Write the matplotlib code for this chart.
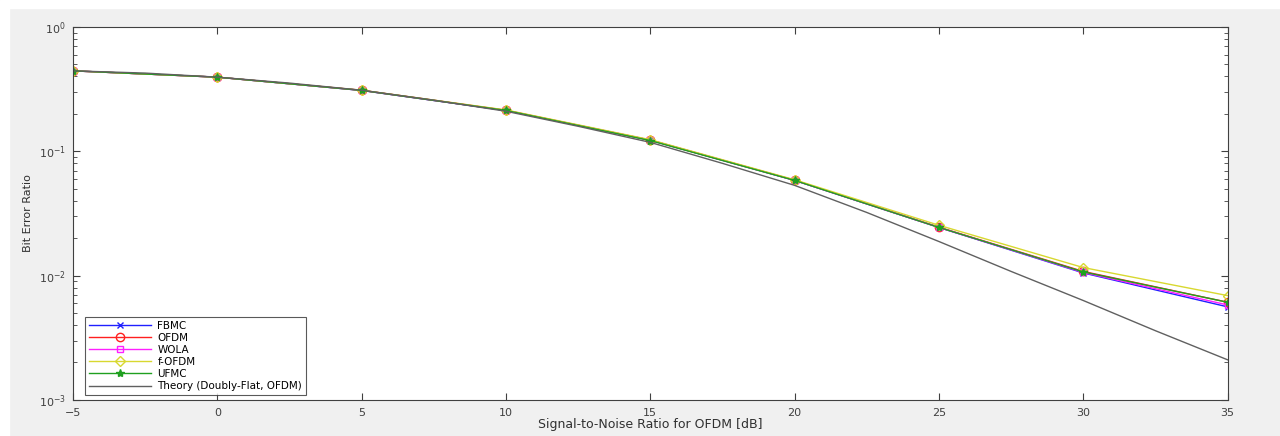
import matplotlib
matplotlib.use('Agg')
import matplotlib.pyplot as plt
from matplotlib.patches import Rectangle
from matplotlib.ticker import LogLocator, NullFormatter

snr = [-5, 0, 5, 10, 15, 20, 25, 30, 35]
fbmc = [0.444, 0.395, 0.309, 0.213, 0.123, 0.0584, 0.0244, 0.0105, 0.0056]
ofdm = [0.444, 0.395, 0.310, 0.214, 0.123, 0.0586, 0.0245, 0.0108, 0.0061]
wola = [0.444, 0.395, 0.309, 0.213, 0.123, 0.0584, 0.0244, 0.0106, 0.0058]
fofdm = [0.444, 0.395, 0.310, 0.215, 0.124, 0.0590, 0.0254, 0.0116, 0.0069]
ufmc = [0.444, 0.395, 0.309, 0.213, 0.122, 0.0583, 0.0244, 0.0107, 0.0061]

snr_theory = [-5, -2.5, 0, 2.5, 5, 7.5, 10, 12.5, 15, 17.5, 20, 22.5, 25, 27.5, 30, 32.5, 35]
theory = [0.444, 0.426, 0.395, 0.354, 0.310, 0.258, 0.210, 0.159, 0.118, 0.080,
          0.0532, 0.0322, 0.0188, 0.0108, 0.0063, 0.0036, 0.0021]

fig = plt.figure(figsize=(12.8, 4.36), dpi=100, facecolor='#f0f0f0')
# white strip at top and left like the screenshot
fig.patches.append(Rectangle((0, 0.982), 1, 0.018, transform=fig.transFigure,
                             color='white', zorder=-1))
fig.patches.append(Rectangle((0, 0), 0.007, 1, transform=fig.transFigure,
                             color='white', zorder=-1))
ax = fig.add_axes([0.057, 0.083, 0.902, 0.855])

ax.plot(snr, fbmc, color='#2020ff', marker='x', ms=5, lw=1, label='FBMC')
ax.plot(snr, ofdm, color='#ff2020', marker='o', ms=6, mfc='none', lw=1, label='OFDM')
ax.plot(snr, wola, color='#ff20ff', marker='s', ms=5, mfc='none', lw=1, label='WOLA')
ax.plot(snr, fofdm, color='#d8d830', marker='D', ms=5, mfc='none', lw=1, label='f-OFDM')
ax.plot(snr, ufmc, color='#20a020', marker='*', ms=6, lw=1, label='UFMC')
ax.plot(snr_theory, theory, color='#606060', lw=1, label='Theory (Doubly-Flat, OFDM)')

ax.set_yscale('log')
ax.set_xlim(-5, 35)
ax.set_ylim(1e-3, 1)
ax.set_xticks(range(-5, 36, 5))
ax.yaxis.set_major_locator(LogLocator(base=10))
ax.yaxis.set_minor_locator(LogLocator(base=10, subs=range(2, 10)))
ax.yaxis.set_minor_formatter(NullFormatter())
ax.tick_params(which='both', direction='in', top=True, right=True, labelsize=8,
               colors='#404040', labelcolor='#404040')
ax.tick_params(which='major', length=5)
ax.tick_params(which='minor', length=3)
ax.tick_params(axis='x', pad=6)
ax.tick_params(axis='y', pad=5)
for s in ax.spines.values():
    s.set_color('#404040')

ax.set_xlabel('Signal-to-Noise Ratio for OFDM [dB]', fontsize=9, color='#303030', labelpad=0)
ax.set_ylabel('Bit Error Ratio', fontsize=8, color='#303030')

leg = ax.legend(loc='lower left', fontsize=7.5, frameon=True, fancybox=False,
                bbox_to_anchor=(0.01, 0.012), borderaxespad=0, handlelength=6,
                labelspacing=0.2, handletextpad=0.6)
leg.get_frame().set_edgecolor('#303030')
leg.get_frame().set_linewidth(0.8)

plt.savefig('out.png', dpi=100, facecolor=fig.get_facecolor())
